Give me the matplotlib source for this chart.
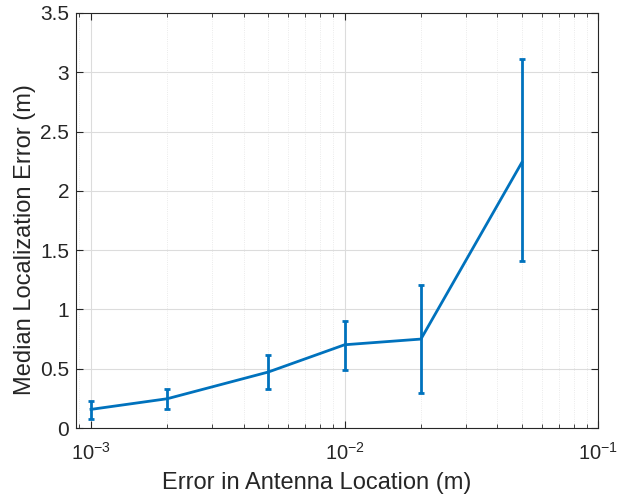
import matplotlib
matplotlib.use('Agg')
import matplotlib.pyplot as plt
from matplotlib.ticker import LogLocator, NullFormatter, FixedLocator

plt.rcParams.update({'font.family': ['Liberation Sans', 'DejaVu Sans'],
                     'mathtext.fontset': 'custom',
                     'mathtext.rm': 'Liberation Sans',
                     'mathtext.it': 'Liberation Sans',
                     'mathtext.bf': 'Liberation Sans'})

# data
antenna_err = [0.001, 0.002, 0.005, 0.01, 0.02, 0.05]
median_err = [0.157, 0.247, 0.472, 0.702, 0.75, 2.24]
err_low = [0.079, 0.16, 0.329, 0.489, 0.295, 1.41]
err_high = [0.228, 0.329, 0.613, 0.905, 1.206, 3.11]

lower = [m - l for m, l in zip(median_err, err_low)]
upper = [h - m for m, h in zip(median_err, err_high)]

fig = plt.figure(figsize=(6.18, 5.0), dpi=100)
ax = fig.add_axes([0.123, 0.144, 0.845, 0.830])

ax.errorbar(antenna_err, median_err, yerr=[lower, upper], color='#0072BD',
            lw=2, elinewidth=2, capsize=2, capthick=2, zorder=3)

ax.set_xscale('log')
ax.set_xlim(10 ** -3.059, 1e-1)
ax.set_ylim(0, 3.5)
ax.yaxis.set_major_locator(FixedLocator([0, 0.5, 1, 1.5, 2, 2.5, 3, 3.5]))
ax.set_yticklabels(['0', '0.5', '1', '1.5', '2', '2.5', '3', '3.5'])
ax.xaxis.set_major_locator(FixedLocator([1e-3, 1e-2, 1e-1]))
ax.set_xticklabels(['$10^{-3}$', '$10^{-2}$', '$10^{-1}$'])
ax.xaxis.set_minor_locator(LogLocator(base=10, subs=range(2, 10), numticks=20))
ax.xaxis.set_minor_formatter(NullFormatter())

ax.grid(True, which='major', color='#dcdcdc', lw=0.8)
ax.grid(True, which='minor', axis='x', color='#e4e4e4', lw=0.6, ls=':')
ax.set_axisbelow(True)

ax.tick_params(which='both', direction='in', top=True, right=True,
               colors='#262626')
ax.tick_params(which='major', length=5, width=0.8)
ax.tick_params(which='minor', length=3, width=0.6)
ax.tick_params(axis='y', labelsize=15, pad=5)
ax.tick_params(axis='x', labelsize=14.5, pad=10)
for s in ax.spines.values():
    s.set_color('#262626')
    s.set_linewidth(0.8)

ax.set_xlabel('Error in Antenna Location (m)', fontsize=17, color='#262626')
ax.set_ylabel('Median Localization Error (m)', fontsize=17, color='#262626')
ax.xaxis.set_label_coords(0.46, -0.105)
ax.yaxis.set_label_coords(-0.077, 0.453)

fig.savefig('out.png', dpi=100)
